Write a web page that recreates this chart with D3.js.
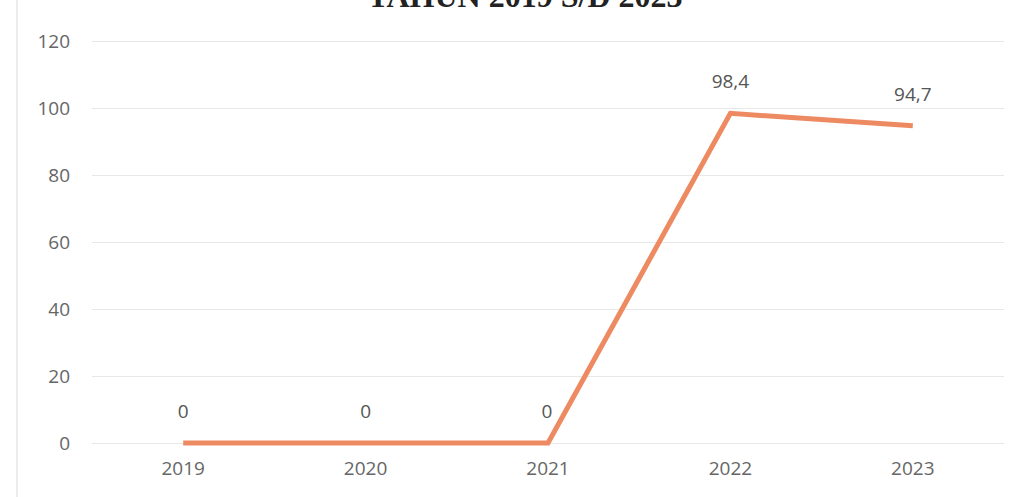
<!DOCTYPE html>
<html><head><meta charset="utf-8">
<script src="https://cdn.jsdelivr.net/npm/d3@7"></script>
<style>body{margin:0;background:#fff}svg{display:block}</style>
</head><body>
<svg id="c" width="1020" height="497"></svg>
<script>
const title = "TAHUN 2019 S/D 2023";
const years = ["2019","2020","2021","2022","2023"];
const values = [0, 0, 0, 98.4, 94.7];
const labels = ["0","0","0","98,4","94,7"];
const yTicks = [0,20,40,60,80,100,120];

const svg = d3.select("#c");
const m = {left: 92, right: 1004, top: 41, bottom: 443};
const x = d3.scaleBand().domain(years).range([m.left, m.right]);
const y = d3.scaleLinear().domain([0,120]).range([m.bottom, m.top]);
const font = "Open Sans, Liberation Sans, sans-serif";

svg.append("line").attr("x1",17).attr("x2",17).attr("y1",0).attr("y2",497)
  .attr("stroke","#e6e6e6").attr("stroke-width",1.5);

svg.append("text").attr("x",525).attr("y",7).attr("text-anchor","middle")
  .attr("font-family","Liberation Serif").attr("font-weight","bold").attr("font-size",32)
  .attr("fill","#222").text(title);

const yAxis = d3.axisLeft(y).tickValues(yTicks).tickSize(-(m.right-m.left)).tickFormat(d3.format("d"));
const gy = svg.append("g").attr("transform",`translate(${m.left},0)`).call(yAxis);
gy.select(".domain").remove();
gy.selectAll(".tick line").attr("stroke","#e8e8e8").attr("stroke-width",1.2);
gy.selectAll(".tick text").attr("x",-22).attr("fill","#666")
  .attr("font-family",font).attr("font-size",19);

const xAxis = d3.axisBottom(x).tickSize(0).tickPadding(22);
const gx = svg.append("g").attr("transform",`translate(0,${m.bottom})`).call(xAxis);
gx.select(".domain").remove();
gx.selectAll(".tick text").attr("fill","#666").attr("dy","0.5em")
  .attr("font-family",font).attr("font-size",19);

const cx = d => x(d) + x.bandwidth()/2;
const line = d3.line().x((d,i)=>cx(years[i])).y(d=>y(d));
svg.append("path").datum(values).attr("d",line).attr("fill","none")
  .attr("stroke","#ee8a62").attr("stroke-width",5).attr("stroke-linejoin","miter");

svg.selectAll(".lbl").data(values).enter().append("text").attr("class","lbl")
  .attr("x",(d,i)=>cx(years[i]) + (i===2?-1:0)).attr("y",d=>y(d)-25)
  .attr("text-anchor","middle").attr("fill","#555")
  .attr("font-family",font).attr("font-size",19)
  .text((d,i)=>labels[i]);
</script>
</body></html>
